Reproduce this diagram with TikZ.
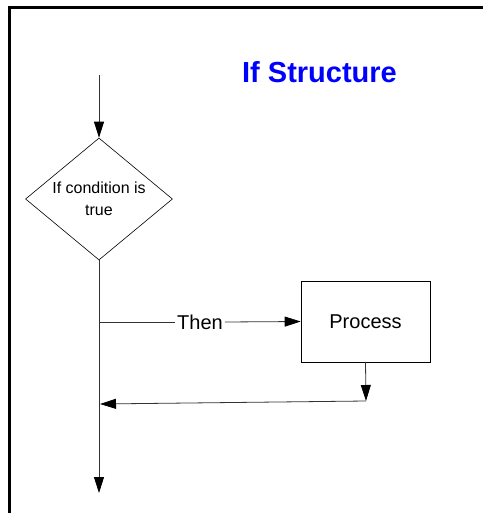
\documentclass[tikz,border=0pt]{standalone}
\usepackage{fontspec}
\setmainfont{Liberation Sans}
\usepackage{xcolor}
\usepackage{tikz}
\usetikzlibrary{positioning,shapes.geometric,arrows.meta}

\begin{document}
\begin{tikzpicture}[x=1pt,y=-1pt,
	flow/.style={draw=black!80, line width=0.8pt},
	flowarrow/.style={flow, -{Triangle[length=16pt,width=10pt,color=black,fill=black]}},
	decision/.style={diamond, draw, line width=0.6pt, inner sep=0pt, aspect=1.2,
		minimum width=147pt, minimum height=122pt, align=center,
		font=\fontsize{16}{22}\selectfont},
	block/.style={rectangle, draw, line width=0.6pt, minimum width=129pt,
		minimum height=81pt, font=\fontsize{20}{24}\selectfont}]
	\useasboundingbox (0,0) rectangle (482,513);
	\draw[line width=3pt] (9,515) -- (9,8) -- (484,8);
	\node[anchor=base, text=blue, font=\fontsize{29}{32}\selectfont\bfseries] (title) at (319.5,83) {If Structure};
	\coordinate (start) at (99,75);
	\node[decision] (cond) at (99,199) {If condition is\\true};
	\coordinate (split) at (99,322);
	\node[font=\fontsize{20}{24}\selectfont, inner sep=2pt] (then) at (200,322) {Then};
	\node[block] (proc) at (365.5,321.5) {Process};
	\coordinate (ret) at (366,401);
	\coordinate (join) at (100,404);
	\coordinate (end) at (99,493);
	\draw[flowarrow] (start) -- (cond.north);
	\draw[flowarrow] (cond.south) -- (end);
	\draw[flow] (split) -- (then.west);
	\draw[flowarrow] (then.east) -- (proc.west);
	\draw[flowarrow] (proc.south) -- (ret);
	\draw[flowarrow] (ret) -- (join);
\end{tikzpicture}
\end{document}
